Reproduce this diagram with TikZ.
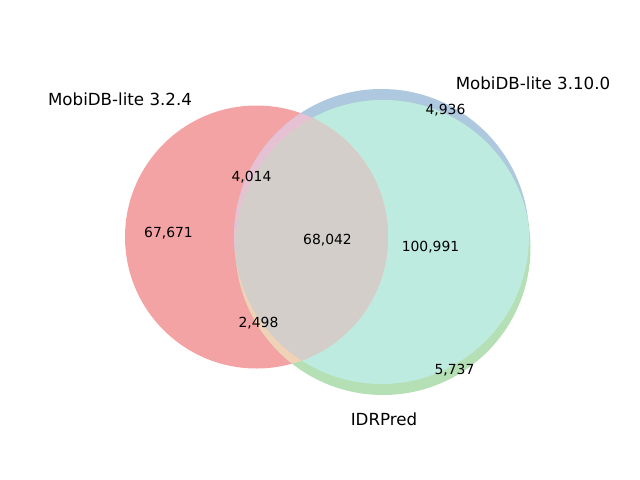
\documentclass[tikz,border=0pt]{standalone}
\usepackage{fontspec}
\setmainfont{DejaVu Sans}
\definecolor{cA}{RGB}{244,163,165}
\definecolor{cB}{RGB}{174,200,224}
\definecolor{cC}{RGB}{181,223,180}
\definecolor{cBC}{RGB}{190,235,224}
\definecolor{cAB}{RGB}{230,193,211}
\definecolor{cAC}{RGB}{240,210,182}
\definecolor{cABC}{RGB}{211,206,201}
\begin{document}
\begin{tikzpicture}[x=0.72pt,y=-0.72pt,
  setlabel/.style={font=\fontsize{12}{14}\selectfont, text=black, inner sep=0pt},
  numlabel/.style={font=\fontsize{10}{12}\selectfont, text=black, inner sep=0pt}]
\useasboundingbox (0,0) rectangle (640,480);
\def\circA{(256.5,237) circle[radius=131.5]}
\def\circB{(381.5,236.5) circle[radius=147.5]}
\def\circC{(383,247.5) circle[radius=147.5]}
\fill[cA] \circA;
\fill[cB] \circB;
\fill[cC] \circC;
\begin{scope}\clip \circB; \fill[cBC] \circC; \end{scope}
\begin{scope}\clip \circA; \fill[cAB] \circB; \end{scope}
\begin{scope}\clip \circA; \fill[cAC] \circC; \end{scope}
\begin{scope}\clip \circA; \clip \circB; \fill[cABC] \circC; \end{scope}
\node[setlabel] (la) at (120,99.5) {MobiDB-lite 3.2.4};
\node[setlabel] (lb) at (533,83.5) {MobiDB-lite 3.10.0};
\node[setlabel] (lc) at (384,419.5) {IDRPred};
\node[numlabel] (n100) at (168.5,233) {67,671};
\node[numlabel] (n010) at (445.5,110) {4,936};
\node[numlabel] (n110) at (251.5,177) {4,014};
\node[numlabel] (n001) at (454.5,370) {5,737};
\node[numlabel] (n101) at (258.5,323) {2,498};
\node[numlabel] (n011) at (430.5,247) {100,991};
\node[numlabel] (n111) at (327.5,240) {68,042};
\end{tikzpicture}
\end{document}
